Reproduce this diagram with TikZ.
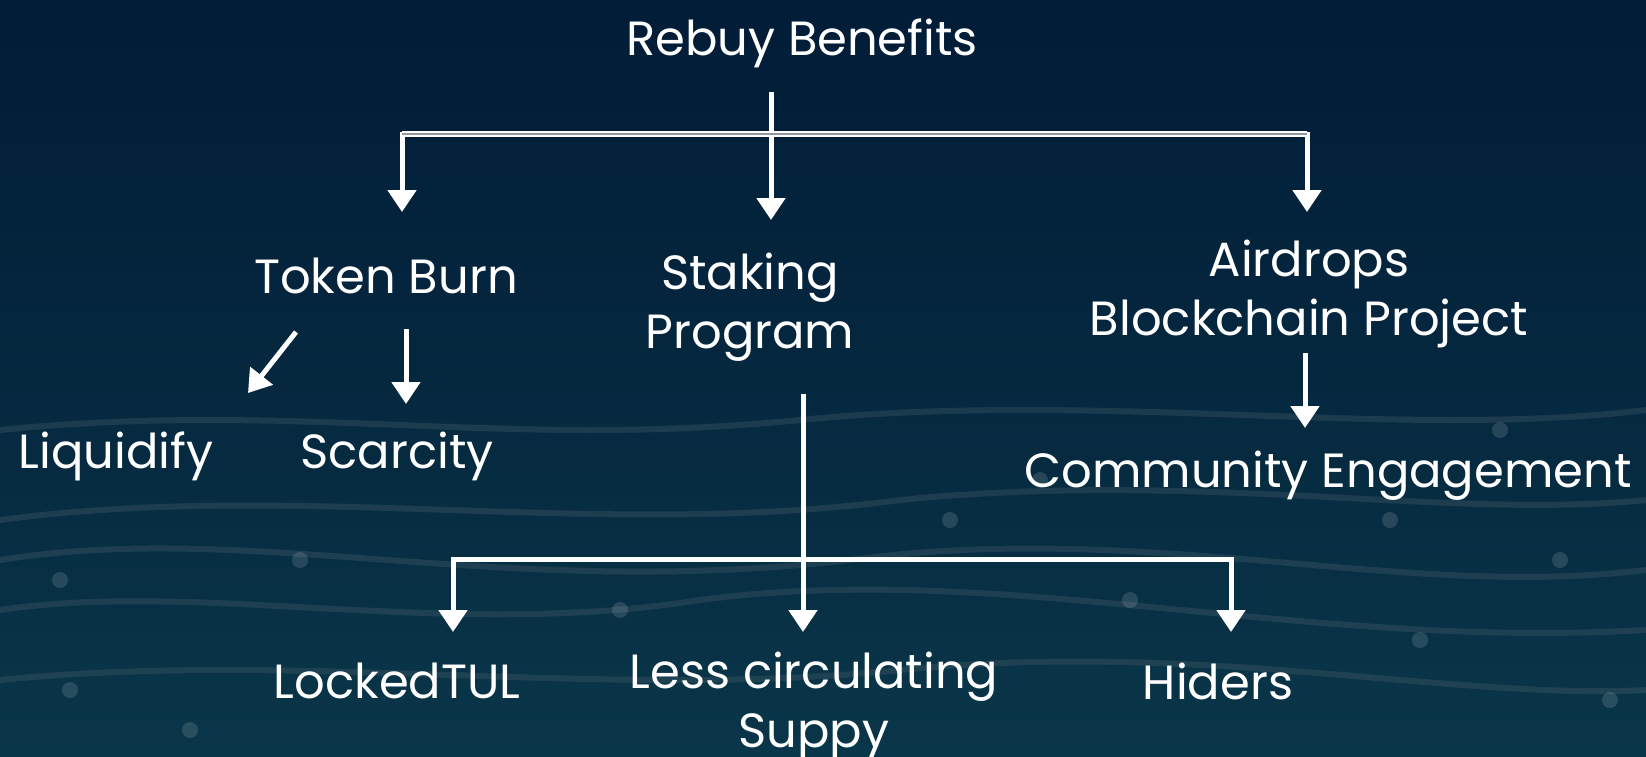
\documentclass[tikz,border=0pt]{standalone}
\usepackage{fontspec}
\setmainfont{Poppins}
\usetikzlibrary{arrows.meta}
\definecolor{bgtop}{HTML}{011C37}
\definecolor{bgmid}{HTML}{05283F}
\definecolor{bgbot}{HTML}{0A3649}
\definecolor{wave}{HTML}{7A7F86}
\tikzset{
  lbl/.style={text=white, font=\fontsize{48}{59}\selectfont, align=center, inner sep=0pt},
  arr/.style={draw=white, line width=5pt, -{Triangle[width=28pt,length=22pt]}},
  plain/.style={draw=white, line width=5pt},
  dbl/.style={draw=white, line width=1.6pt, double=white!55!bgtop, double distance=2.6pt},
  wv/.style={draw=wave, line width=6pt, opacity=0.2, line cap=round},
  dot/.style={fill=white, opacity=0.13}
}
\begin{document}
\begin{tikzpicture}[x=1pt,y=-1pt]
\useasboundingbox (0,0) rectangle (1646,756);
\shade[top color=bgtop, bottom color=bgbot, middle color=bgmid] (0,0) rectangle (1646,756);
% faint background waves
\draw[wv] (0,520) .. controls (300,480) and (600,540) .. (900,500) .. controls (1200,470) and (1450,520) .. (1646,500);
\draw[wv] (0,560) .. controls (250,520) and (500,600) .. (850,560) .. controls (1150,520) and (1400,600) .. (1646,570);
\draw[wv] (0,610) .. controls (200,580) and (450,640) .. (700,600) .. controls (1000,560) and (1300,650) .. (1646,630);
\draw[wv] (0,680) .. controls (300,650) and (600,700) .. (900,670) .. controls (1200,640) and (1450,700) .. (1646,690);
\draw[wv] (0,430) .. controls (300,400) and (500,450) .. (800,420) .. controls (1100,390) and (1400,440) .. (1646,410);
\foreach \p in {(70,690),(190,730),(300,560),(620,610),(950,520),(1130,600),(1390,520),(1420,640),(1560,560),(1610,700),(1500,430),(1040,480),(60,580)}
  \fill[dot] \p circle (8pt);
% nodes
\node[lbl] (rebuy) at (802,43) {Rebuy Benefits};
\node[lbl] (burn) at (386,276) {Token Burn};
\node[lbl] (staking) at (750,307) {Staking\\Program};
\node[lbl] (airdrops) at (1309,294) {Airdrops\\Blockchain Project};
\node[lbl] (liquid) at (116,456) {Liquidify};
\node[lbl] (scarce) at (397,456) {Scarcity};
\node[lbl] (community) at (1328,476) {Community Engagement};
\node[lbl] (locked) at (397,681) {LockedTUL};
\node[lbl] (less) at (814,706) {Less circulating\\Suppy};
\node[lbl] (hiders) at (1218,681) {Hiders};
% connector coordinates
\coordinate (rbOut) at (771,92);
\coordinate (rbL) at (402,134);
\coordinate (rbR) at (1307,134);
\coordinate (burnIn) at (402,212);
\coordinate (stakIn) at (771,220);
\coordinate (airIn) at (1307,212);
\coordinate (burnOutA) at (296,332);
\coordinate (liqIn) at (248,393);
\coordinate (burnOutB) at (406,329);
\coordinate (scIn) at (406,404);
\coordinate (airOut) at (1305,353);
\coordinate (comIn) at (1305,428);
\coordinate (stakOut) at (803,394);
\coordinate (stL) at (453,559);
\coordinate (stR) at (1231,559);
\coordinate (lockIn) at (453,632);
\coordinate (lessIn) at (803,632);
\coordinate (hidIn) at (1231,632);
% connectors
\draw[arr] (rbOut) -- (stakIn);
\draw[arr] (rbL |- 0,132) -- (burnIn);
\draw[arr] (rbR |- 0,132) -- (airIn);
\draw[dbl] (rbL) -- (rbR);
\draw[arr] (burnOutA) -- (liqIn);
\draw[arr] (burnOutB) -- (scIn);
\draw[arr] (airOut) -- (comIn);
\draw[arr] (stakOut) -- (lessIn);
\draw[plain, line cap=rect] (stL) -- (stR);
\draw[arr] (stL) -- (lockIn);
\draw[arr] (stR) -- (hidIn);
\end{tikzpicture}
\end{document}
